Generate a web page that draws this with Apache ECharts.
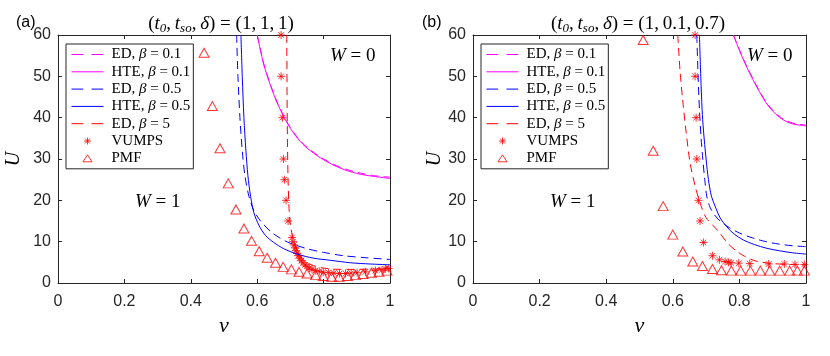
<!DOCTYPE html>
<html>
<head>
<meta charset="utf-8">
<script src="https://cdn.jsdelivr.net/npm/echarts@6/dist/echarts.min.js"></script>
<style>
  html, body { margin: 0; padding: 0; background: #fff; }
  #chart { width: 830px; height: 356px; }
</style>
</head>
<body>
<div id="chart"></div>
<script>
// ---- panel (a): (t0, tso, delta) = (1, 1, 1) ----
const aEd01Nu = [0.600, 0.620, 0.640, 0.660, 0.680, 0.700, 0.730, 0.760, 0.800, 0.850, 0.900, 0.950, 1.000];
const aEd01U = [60.0, 53.0, 48.0, 43.8, 40.5, 37.6, 34.4, 32.2, 30.0, 28.0, 26.8, 26.0, 25.6];
const aHte01Nu = [0.600, 0.620, 0.640, 0.660, 0.680, 0.700, 0.730, 0.760, 0.800, 0.850, 0.900, 0.950, 1.000];
const aHte01U = [60.0, 52.8, 47.8, 43.6, 40.3, 37.4, 34.2, 32.0, 29.8, 27.8, 26.5, 25.8, 25.3];
const aEd05Nu = [0.538, 0.542, 0.548, 0.555, 0.563, 0.575, 0.590, 0.610, 0.640, 0.670, 0.700, 0.750, 0.800, 0.860, 0.930, 1.000];
const aEd05U = [60.0, 50.0, 40.0, 32.0, 26.0, 21.0, 17.5, 15.0, 12.5, 10.8, 9.6, 8.3, 7.4, 6.6, 6.1, 5.7];
const aHte05Nu = [0.551, 0.555, 0.560, 0.566, 0.572, 0.580, 0.590, 0.605, 0.625, 0.650, 0.680, 0.720, 0.770, 0.820, 0.880, 0.940, 1.000];
const aHte05U = [60.0, 50.0, 40.0, 32.0, 26.0, 21.0, 17.0, 14.0, 11.5, 9.8, 8.3, 7.0, 6.0, 5.5, 4.9, 4.6, 4.4];
const aEd5Nu = [0.689, 0.690, 0.691, 0.693, 0.696, 0.700, 0.706, 0.712, 0.720, 0.730, 0.740, 0.755, 0.770, 0.800, 0.850, 0.900, 0.950, 1.000];
const aEd5U = [60.0, 45.0, 35.0, 25.0, 18.0, 14.0, 11.5, 9.8, 8.0, 6.5, 5.4, 4.7, 4.2, 3.6, 3.3, 3.3, 3.4, 3.5];
const aVumpsNu = [0.672, 0.672, 0.676, 0.679, 0.682, 0.687, 0.693, 0.705, 0.708, 0.711, 0.714, 0.717, 0.720, 0.724, 0.728, 0.733, 0.738, 0.744, 0.750, 0.757, 0.765, 0.775, 0.787, 0.799, 0.815, 0.831, 0.848, 0.866, 0.883, 0.901, 0.926, 0.956, 0.976, 0.986, 0.996];
const aVumpsU = [60, 50, 40, 30, 25, 20, 15, 11.0, 10.0, 9.2, 8.5, 7.8, 7.2, 6.6, 6.0, 5.4, 4.9, 4.4, 4.0, 3.6, 3.3, 3.0, 2.8, 2.6, 2.5, 2.4, 2.3, 2.3, 2.4, 2.5, 2.7, 3.0, 3.2, 3.4, 3.5];
const aPmfNu = [0.440, 0.465, 0.488, 0.513, 0.536, 0.560, 0.583, 0.606, 0.630, 0.655, 0.678, 0.703, 0.726, 0.750, 0.776, 0.799, 0.824, 0.847, 0.872, 0.896, 0.919, 0.944, 0.967, 0.991];
const aPmfU = [55.7, 42.8, 32.6, 24.1, 17.8, 13.2, 10.2, 7.7, 6.1, 4.9, 3.9, 3.3, 2.7, 2.3, 1.9, 1.7, 1.5, 1.5, 1.7, 1.9, 2.2, 2.5, 2.7, 3.0];

// ---- panel (b): (t0, tso, delta) = (1, 0.1, 0.7) ----
const bEd01Nu = [0.782, 0.800, 0.820, 0.840, 0.860, 0.880, 0.900, 0.920, 0.940, 0.960, 0.980, 1.000];
const bEd01U = [60.0, 56.5, 52.8, 49.5, 46.5, 43.8, 41.8, 40.3, 39.3, 38.7, 38.4, 38.2];
const bHte01Nu = [0.782, 0.800, 0.820, 0.840, 0.860, 0.880, 0.900, 0.920, 0.940, 0.960, 0.980, 1.000];
const bHte01U = [60.0, 56.3, 52.6, 49.3, 46.3, 43.6, 41.6, 40.1, 39.1, 38.5, 38.2, 38.0];
const bEd05Nu = [0.672, 0.676, 0.680, 0.685, 0.690, 0.696, 0.702, 0.712, 0.725, 0.742, 0.770, 0.800, 0.840, 0.880, 0.920, 0.960, 1.000];
const bEd05U = [60.0, 50.0, 42.0, 35.0, 30.0, 25.0, 21.0, 18.3, 16.5, 15.0, 13.4, 12.1, 10.9, 10.0, 9.4, 9.0, 8.8];
const bHte05Nu = [0.680, 0.684, 0.688, 0.692, 0.700, 0.707, 0.716, 0.727, 0.742, 0.762, 0.785, 0.812, 0.845, 0.882, 0.920, 0.960, 1.000];
const bHte05U = [60.0, 50.0, 42.0, 37.0, 30.0, 25.0, 21.0, 18.6, 15.8, 13.6, 11.8, 10.4, 9.3, 8.4, 7.8, 7.3, 7.0];
const bEd5Nu = [0.615, 0.622, 0.630, 0.640, 0.652, 0.667, 0.682, 0.700, 0.720, 0.740, 0.765, 0.790, 0.815, 0.850, 0.900, 0.950, 1.000];
const bEd5U = [60.0, 51.0, 44.0, 36.5, 29.0, 23.5, 19.3, 15.8, 14.0, 12.2, 9.6, 7.8, 6.5, 5.3, 4.7, 4.5, 4.4];
const bVumpsNu = [0.667, 0.667, 0.670, 0.672, 0.677, 0.682, 0.692, 0.719, 0.740, 0.757, 0.767, 0.775, 0.798, 0.831, 0.888, 0.935, 0.967, 0.995];
const bVumpsU = [60, 50, 40, 30, 20, 15, 9.8, 6.6, 5.6, 5.2, 5.0, 4.9, 4.8, 4.7, 4.6, 4.6, 4.5, 4.5];
const bPmfNu = [0.511, 0.541, 0.571, 0.600, 0.630, 0.660, 0.689, 0.719, 0.746, 0.776, 0.804, 0.833, 0.863, 0.891, 0.921, 0.951, 0.974, 0.995];
const bPmfU = [58.8, 32.0, 18.6, 11.7, 7.6, 5.2, 4.1, 3.4, 3.1, 3.0, 3.0, 3.0, 3.0, 3.0, 3.0, 3.0, 3.0, 3.0];

const seriesNames = ['ED, β = 0.1', 'HTE, β = 0.1', 'ED, β = 0.5', 'HTE, β = 0.5', 'ED, β = 5', 'VUMPS', 'PMF'];

const axisColor = '#262626';
const serif = '"Liberation Serif", "DejaVu Serif", serif';
const sans = '"Liberation Sans", Arial, sans-serif';
const magenta = '#ff00ff';
const blue = '#0000ff';
const red = '#ff0000';
const dash = [8, 5];
const starPath = 'path://M5,0L5,10M0,5L10,5M1.5,1.5L8.5,8.5M1.5,8.5L8.5,1.5';
const triLegendPath = 'path://M0,0M20,20M10,5L16.5,15L3.5,15Z';
const starLegendPath = 'path://M0,0M20,20M10,5L10,15M5,10L15,10M6.5,6.5L13.5,13.5M6.5,13.5L13.5,6.5';

const zip = (xs, ys) => xs.map((x, i) => [x, ys[i]]);

function lineSeries(name, gi, nu, u, color, dashed) {
  return {
    name: name, type: 'line', xAxisIndex: gi, yAxisIndex: gi,
    data: zip(nu, u), symbol: 'none', smooth: 0.3,
    lineStyle: { color: color, width: 1, type: dashed ? dash : 'solid' },
    itemStyle: { color: color }
  };
}

function scatterSeries(name, gi, nu, u, symbol, size) {
  return {
    name: name, type: 'scatter', xAxisIndex: gi, yAxisIndex: gi,
    data: zip(nu, u), symbol: symbol, symbolSize: size,
    itemStyle: { color: 'transparent', borderColor: red, borderWidth: 1 }
  };
}

function panelSeries(gi, d) {
  return [
    lineSeries(seriesNames[0], gi, d.ed01Nu, d.ed01U, magenta, true),
    lineSeries(seriesNames[1], gi, d.hte01Nu, d.hte01U, magenta, false),
    lineSeries(seriesNames[2], gi, d.ed05Nu, d.ed05U, blue, true),
    lineSeries(seriesNames[3], gi, d.hte05Nu, d.hte05U, blue, false),
    lineSeries(seriesNames[4], gi, d.ed5Nu, d.ed5U, red, true),
    scatterSeries(seriesNames[5], gi, d.vumpsNu, d.vumpsU, starPath, 8),
    scatterSeries(seriesNames[6], gi, d.pmfNu, d.pmfU, 'triangle', [10, 9])
  ];
}

function xAxisFor(gi, top) {
  return {
    type: 'value', gridIndex: gi, min: 0, max: 1, interval: 0.2,
    position: top ? 'top' : 'bottom',
    axisLine: { onZero: false, lineStyle: { color: axisColor, width: 1 } },
    axisTick: { inside: true, length: 4, lineStyle: { color: axisColor } },
    axisLabel: { show: !top, fontFamily: sans, fontSize: 16, color: axisColor, margin: 11 },
    splitLine: { show: false },
    name: top ? '' : 'ν', nameLocation: 'middle', nameGap: 32,
    nameTextStyle: { fontFamily: serif, fontStyle: 'italic', fontSize: 22, color: '#000' }
  };
}

function yAxisFor(gi, right, gap) {
  return {
    type: 'value', gridIndex: gi, min: 0, max: 60, interval: 10,
    position: right ? 'right' : 'left',
    axisLine: { onZero: false, lineStyle: { color: axisColor, width: 1 } },
    axisTick: { inside: true, length: 4, lineStyle: { color: axisColor } },
    axisLabel: { show: !right, fontFamily: sans, fontSize: 16, color: axisColor, margin: 7 },
    splitLine: { show: false },
    name: right ? '' : 'U', nameLocation: 'middle', nameGap: gap, nameRotate: 90,
    nameTextStyle: { fontFamily: serif, fontStyle: 'italic', fontSize: 20, color: '#000' }
  };
}

const legendDash = { type: [11.7, 8.3], width: 1 };
const legendSolid = { width: 1 };
function legendFor(left) {
  const noMark = { opacity: 0 };
  const hollow = { color: 'transparent', borderColor: red, borderWidth: 1 };
  return {
    left: left, top: 44, orient: 'vertical', selectedMode: false,
    padding: [3, 3, 3, 5], borderColor: axisColor, borderWidth: 1, backgroundColor: '#fff',
    itemWidth: 32, itemHeight: 14, itemGap: 2.3,
    textStyle: { fontFamily: serif, fontSize: 15, lineHeight: 14, color: '#000', padding: [0, 0, 0, 3],
      rich: { b: { fontFamily: serif, fontStyle: 'italic', fontSize: 15 } } },
    formatter: name => name.replace('β', '{b|β}'),
    data: [
      { name: seriesNames[0], lineStyle: legendDash, itemStyle: noMark },
      { name: seriesNames[1], lineStyle: legendSolid, itemStyle: noMark },
      { name: seriesNames[2], lineStyle: legendDash, itemStyle: noMark },
      { name: seriesNames[3], lineStyle: legendSolid, itemStyle: noMark },
      { name: seriesNames[4], lineStyle: legendDash, itemStyle: noMark },
      { name: seriesNames[5], icon: starLegendPath, itemStyle: hollow },
      { name: seriesNames[6], icon: triLegendPath, itemStyle: hollow }
    ]
  };
}

const titleRich = {
  p: { fontFamily: serif, fontSize: 19, lineHeight: 22 },
  i: { fontFamily: serif, fontStyle: 'italic', fontSize: 19, lineHeight: 22 },
  s: { fontFamily: serif, fontStyle: 'italic', fontSize: 13, lineHeight: 13, verticalAlign: 'bottom' }
};
const wRich = {
  p: { fontFamily: serif, fontSize: 19 },
  i: { fontFamily: serif, fontStyle: 'italic', fontSize: 19 }
};

function titleText(x, vals) {
  return {
    type: 'text', x: x, y: 24,
    style: {
      text: '{p|(}{i|t}{s|0}{p|,\u2009}{i|t}{s|so}{p|,\u2009}{i|δ}{p|) = (' + vals.join(',\u2009') + ')}',
      rich: titleRich, align: 'center', verticalAlign: 'middle', fill: '#000'
    }
  };
}
function wText(x, y, v) {
  return {
    type: 'text', x: x, y: y,
    style: { text: '{i|W}{p| = ' + v + '}', rich: wRich, align: 'left', verticalAlign: 'middle', fill: '#000' }
  };
}
function panelLabel(x, t) {
  return { type: 'text', x: x, y: 23, style: { text: t, font: '16px ' + sans, fill: '#000', align: 'left', verticalAlign: 'middle' } };
}

const chart = echarts.init(document.getElementById('chart'));
chart.setOption({
  animation: false,
  backgroundColor: '#fff',
  grid: [
    { left: 58, right: 440, top: 35, bottom: 73 },
    { left: 473, right: 24, top: 35, bottom: 73 }
  ],
  xAxis: [xAxisFor(0, false), xAxisFor(1, false), xAxisFor(0, true), xAxisFor(1, true)],
  yAxis: [yAxisFor(0, false, 34), yAxisFor(1, false, 26), yAxisFor(0, true, 0), yAxisFor(1, true, 0)],
  legend: [legendFor(66), legendFor(481)],
  graphic: [
    panelLabel(16, '(a)'),
    panelLabel(422, '(b)'),
    titleText(221, ['1', '1', '1']),
    titleText(638, ['1', '0.1', '0.7']),
    wText(330, 56, '0'),
    wText(747, 56, '0'),
    wText(135, 202, '1'),
    wText(550, 202, '1')
  ],
  series: panelSeries(0, {
    ed01Nu: aEd01Nu, ed01U: aEd01U, hte01Nu: aHte01Nu, hte01U: aHte01U,
    ed05Nu: aEd05Nu, ed05U: aEd05U, hte05Nu: aHte05Nu, hte05U: aHte05U,
    ed5Nu: aEd5Nu, ed5U: aEd5U, vumpsNu: aVumpsNu, vumpsU: aVumpsU, pmfNu: aPmfNu, pmfU: aPmfU
  }).concat(panelSeries(1, {
    ed01Nu: bEd01Nu, ed01U: bEd01U, hte01Nu: bHte01Nu, hte01U: bHte01U,
    ed05Nu: bEd05Nu, ed05U: bEd05U, hte05Nu: bHte05Nu, hte05U: bHte05U,
    ed5Nu: bEd5Nu, ed5U: bEd5U, vumpsNu: bVumpsNu, vumpsU: bVumpsU, pmfNu: bPmfNu, pmfU: bPmfU
  }))
});
</script>
</body>
</html>
